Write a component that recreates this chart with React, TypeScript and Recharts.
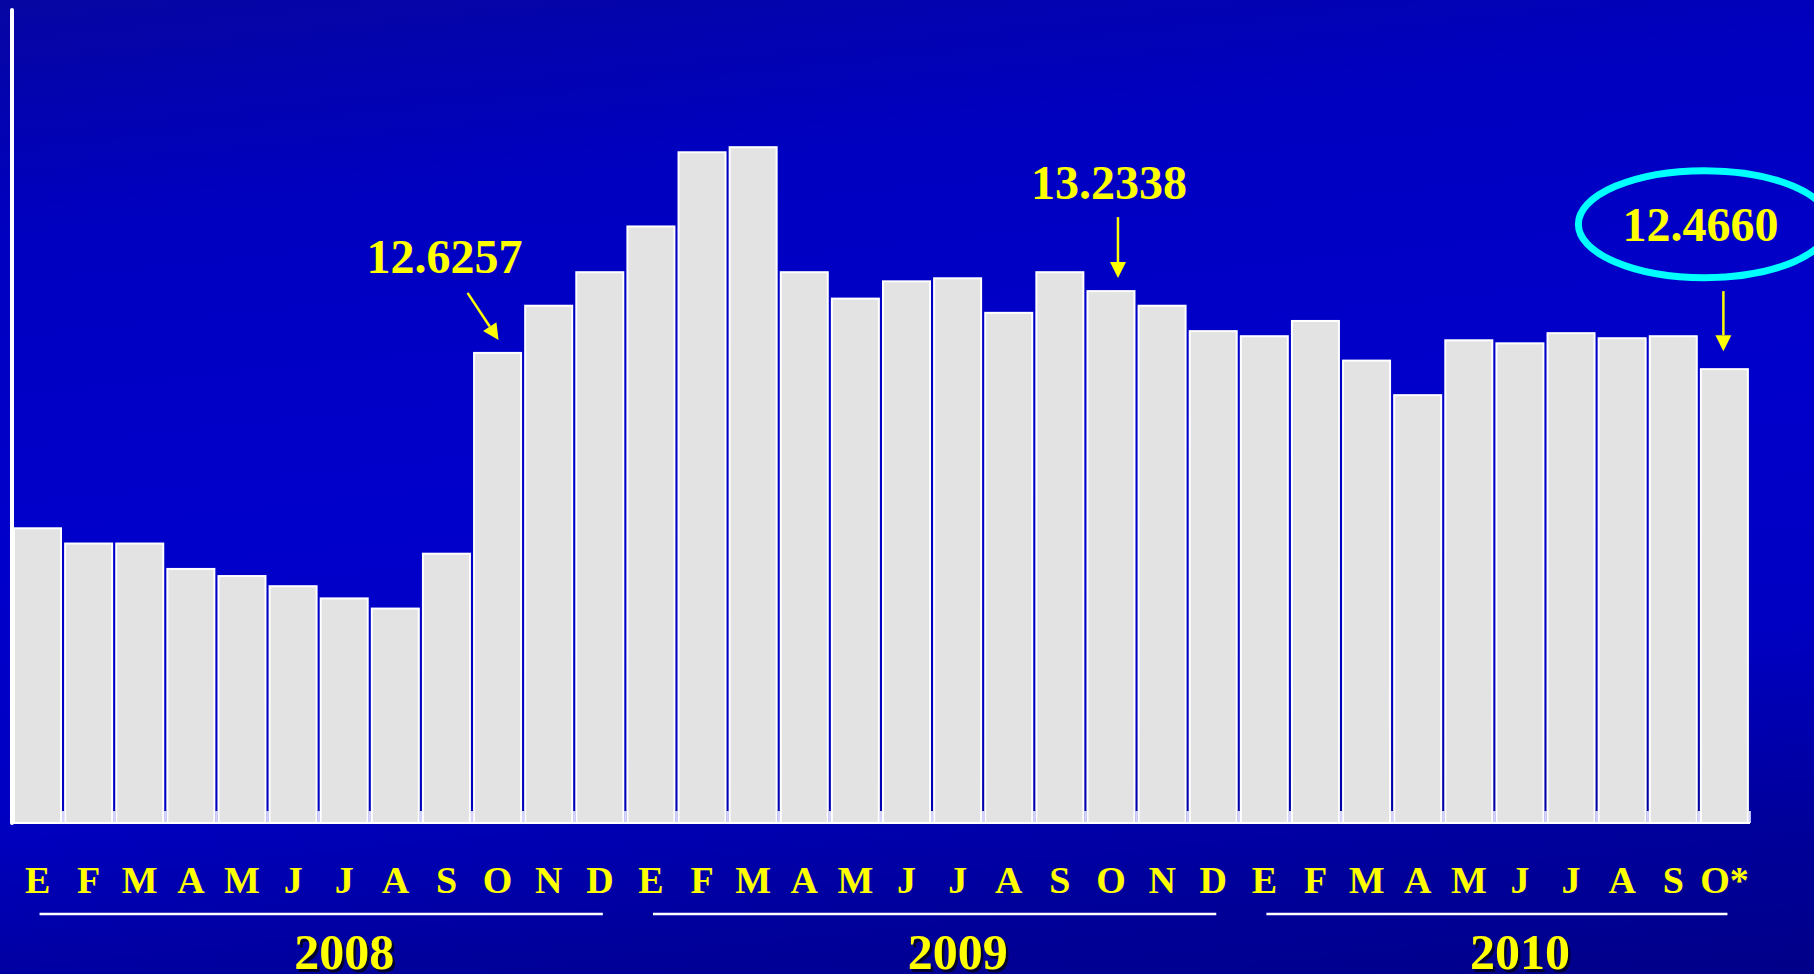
import React from 'react';
import { BarChart, Bar, XAxis, YAxis, LabelList } from 'recharts';

// Meses (E = enero) de 2008 a octubre de 2010
const months = [
  'E', 'F', 'M', 'A', 'M', 'J', 'J', 'A', 'S', 'O', 'N', 'D',
  'E', 'F', 'M', 'A', 'M', 'J', 'J', 'A', 'S', 'O', 'N', 'D',
  'E', 'F', 'M', 'A', 'M', 'J', 'J', 'A', 'S', 'O*',
];
const years = ['2008', '2009', '2010'];
const monthsPerYear = [12, 12, 10];

// tipo de cambio promedio mensual (pesos por dólar)
const rates2008 = [10.9, 10.75, 10.75, 10.5, 10.43, 10.33, 10.21, 10.11, 10.65, 12.6257, 13.09, 13.42];
const rates2009 = [13.87, 14.6, 14.65, 13.42, 13.16, 13.33, 13.36, 13.02, 13.42, 13.2338, 13.09, 12.84];
const rates2010 = [12.79, 12.94, 12.55, 12.21, 12.75, 12.72, 12.82, 12.77, 12.79, 12.466];

const calloutIndex = [9, 21, 33];
const calloutText = ['12.6257', '13.2338', '12.4660'];

const W = 1814;
const H = 974;
const YELLOW = '#ffff00';
const SERIF = "'Liberation Serif', 'Times New Roman', serif";

const rates = [...rates2008, ...rates2009, ...rates2010];

// primer índice de cada año
const yearStart: number[] = [];
monthsPerYear.reduce((acc, n) => {
  yearStart.push(acc);
  return acc + n;
}, 0);

const data = months.map((m, i) => ({ id: `m${i}`, month: m, rate: rates[i] }));

const BarWithTicks = (props: any) => {
  const { x, y, width, height } = props;
  const base = y + height;
  return (
    <g>
      <line x1={x - 2} x2={x - 2} y1={base} y2={base - 12} stroke="#d4d4ff" strokeWidth={2} />
      <line x1={x + width + 2} x2={x + width + 2} y1={base} y2={base - 12} stroke="#d4d4ff" strokeWidth={2} />
      <rect x={x} y={y} width={width} height={height} fill="#e3e3e3" stroke="#ffffff" strokeWidth={2} />
    </g>
  );
};

const MonthTick = (props: any) => {
  const { x, y, payload } = props;
  const index = payload?.index ?? props.index;
  const band = payload?.offset ? payload.offset * 2 : 1738 / months.length;
  const yi = yearStart.indexOf(index);
  return (
    <g>
      <text x={x} y={y + 70} textAnchor="middle" fill={YELLOW} fontFamily={SERIF} fontWeight="bold" fontSize={38}>
        {months[index]}
      </text>
      {yi >= 0 && (
        <g>
          <line
            x1={x + 2}
            x2={x + (monthsPerYear[yi] - 1) * band + 3}
            y1={y + 91}
            y2={y + 91}
            stroke="#ffffff"
            strokeWidth={2.5}
          />
          {[true, false].map((shadow) => (
            <text
              key={String(shadow)}
              x={x + ((monthsPerYear[yi] - 1) / 2 + 0.5) * band + (shadow ? 2.5 : 0)}
              y={y + 146 + (shadow ? 2.5 : 0)}
              textAnchor="middle"
              fill={shadow ? '#000030' : YELLOW}
              fontFamily={SERIF}
              fontWeight="bold"
              fontSize={50}
            >
              {years[yi]}
            </text>
          ))}
        </g>
      )}
    </g>
  );
};

const arrow = (x1: number, y1: number, x2: number, y2: number) => {
  const dx = x2 - x1;
  const dy = y2 - y1;
  const len = Math.sqrt(dx * dx + dy * dy);
  const ux = dx / len;
  const uy = dy / len;
  const hx = x2 - ux * 16;
  const hy = y2 - uy * 16;
  return (
    <g>
      <line x1={x1} y1={y1} x2={hx} y2={hy} stroke={YELLOW} strokeWidth={2.5} />
      <polygon
        points={`${x2},${y2} ${hx - uy * 8},${hy + ux * 8} ${hx + uy * 8},${hy - ux * 8}`}
        fill={YELLOW}
      />
    </g>
  );
};

const Callout = (props: any) => {
  const { x, y, width, index } = props;
  const k = calloutIndex.indexOf(index);
  if (k < 0) return null;
  const cx = x + width / 2;
  const txt = (tx: number, ty: number) => (
    <text x={tx} y={ty} textAnchor="middle" fill={YELLOW} fontFamily={SERIF} fontWeight="bold" fontSize={48}>
      {calloutText[k]}
    </text>
  );
  if (k === 0) {
    return (
      <g>
        {txt(cx - 53, y - 80)}
        {arrow(cx - 30, y - 60, cx + 1, y - 13)}
      </g>
    );
  }
  if (k === 1) {
    return (
      <g>
        {txt(cx - 2, y - 92)}
        {arrow(cx + 7, y - 74, cx + 7, y - 13)}
      </g>
    );
  }
  return (
    <g>
      <ellipse cx={cx - 20} cy={y - 145} rx={126} ry={53.5} fill="none" stroke="#00ffff" strokeWidth={7} />
      {txt(cx - 24, y - 128)}
      {arrow(cx - 1, y - 78, cx - 1, y - 18)}
    </g>
  );
};

export default function App() {
  return (
    <div
      style={{
        position: 'fixed',
        left: 0,
        top: 0,
        width: W,
        height: H,
        overflow: 'hidden',
        background:
          'linear-gradient(174deg, #0606a2 0%, #0000c0 20%, #0000cb 48%, #0000c2 70%, #00009c 86%, #000088 100%)',
      }}
    >
      <BarChart width={W} height={H} data={data} margin={{ top: 10, right: 64, bottom: 0, left: 11 }} barCategoryGap={2}>
        <XAxis
          dataKey="id"
          height={151}
          interval={0}
          tickLine={false}
          tickSize={0}
          tickMargin={0}
          axisLine={{ stroke: '#ffffff', strokeWidth: 2 }}
          tick={<MonthTick />}
        />
        <YAxis
          width={1}
          domain={[8, 16]}
          allowDataOverflow
          tick={false}
          tickLine={false}
          axisLine={{ stroke: '#ffffff', strokeWidth: 4, strokeLinecap: 'round' }}
        />
        <Bar dataKey="rate" shape={<BarWithTicks />} isAnimationActive={false}>
          <LabelList dataKey="rate" content={<Callout />} />
        </Bar>
      </BarChart>
    </div>
  );
}
